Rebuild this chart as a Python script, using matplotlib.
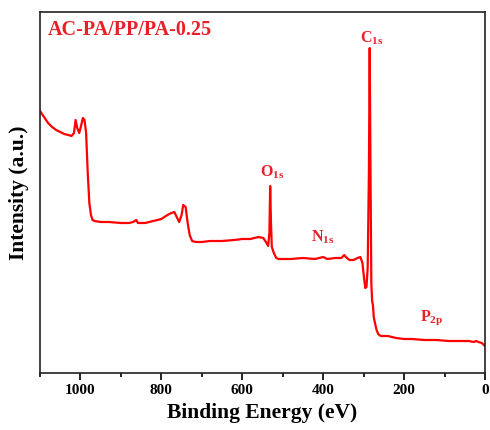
import numpy as np
import matplotlib
matplotlib.use('Agg')
import matplotlib.pyplot as plt
from matplotlib.ticker import MultipleLocator

# Survey spectrum (eV, a.u.)
energy = [1100, 1090, 1080, 1070, 1060, 1050, 1040, 1030, 1022, 1016, 1012, 1008,
          1003, 998, 994, 990, 986, 982, 978, 974, 970, 965, 950, 930, 900, 880,
          870, 862, 858, 840, 820, 800, 785, 775, 768, 762, 756, 750, 746, 740,
          735, 730, 724, 715, 700, 680, 650, 620, 600, 580, 560, 548, 540, 536,
          533, 531, 529, 527, 522, 516, 510, 480, 450, 420, 400, 390, 370, 355,
          348, 344, 335, 325, 315, 308, 303, 299, 296, 293, 290, 287, 285, 283,
          281, 279, 277, 275, 272, 268, 264, 258, 240, 220, 200, 180, 150, 120,
          90, 60, 40, 28, 22, 16, 8, 0]
intensity = [262, 256, 250, 246, 243, 241, 239, 238, 237, 240, 253, 245,
             240, 248, 255, 253, 240, 200, 170, 158, 153, 152, 151, 151, 150, 150,
             151, 153, 150, 150, 152, 154, 158, 160, 161, 156, 151, 158, 168, 166,
             150, 138, 132, 131, 131, 132, 132, 133, 134, 134, 136, 135, 130, 127,
             140, 187, 150, 126, 120, 115, 114, 114, 115, 114, 116, 114, 115, 115,
             118, 116, 113, 113, 115, 116, 110, 95, 85, 86, 105, 200, 325, 200,
             90, 72, 68, 56, 50, 43, 39, 37, 37, 35, 34, 34, 33, 33,
             32, 32, 32, 31, 32, 31, 30, 27]

# Peak labels: (main letter, subscript, eV, intensity)
peak_names = ['O', 'C', 'N', 'P']
peak_subs = ['1s', '1s', '1s', '2p']
peak_x = [526, 279, 402, 131]
peak_y = [201, 335, 136, 55]

sample_name = 'AC-PA/PP/PA-0.25'

plt.rcParams['font.family'] = ['Liberation Serif', 'DejaVu Serif']
plt.rcParams['font.weight'] = 'bold'
plt.rcParams['mathtext.default'] = 'regular'

fig = plt.figure(figsize=(4.9, 4.3), dpi=100)
ax = fig.add_axes([40/490, 1-373/430, 445/490, 361/430])

ax.plot(energy, intensity, color='#ff0000', lw=1.6)

ax.set_xlim(1100, 0)
ax.set_ylim(0, 361)
ax.xaxis.set_major_locator(MultipleLocator(200))
ax.xaxis.set_minor_locator(MultipleLocator(100))
ax.set_yticks([])
ax.tick_params(axis='x', which='major', direction='out', length=5, width=1.2,
               labelsize=11, pad=3)
ax.tick_params(axis='x', which='minor', direction='out', length=3, width=1.2)
for lab in ax.get_xticklabels():
    lab.set_fontweight('bold')

for s in ax.spines.values():
    s.set_linewidth(1.2)
    s.set_color('#222222')

ax.set_xlabel('Binding Energy (eV)', fontsize=15.5, fontweight='bold', labelpad=4)
ax.set_ylabel('Intensity (a.u.)', fontsize=15.5, fontweight='bold', labelpad=8)

ax.text(0.018, 0.95, sample_name, transform=ax.transAxes, color='#e8202a',
        fontsize=14.5, fontweight='bold', ha='left', va='center')

for nm, sb, px, py in zip(peak_names, peak_subs, peak_x, peak_y):
    ax.text(px, py, nm + '$_{' + sb + '}$', color='#e8202a', fontsize=11.5,
            fontweight='bold', ha='center', va='center')

fig.savefig('out.png', dpi=100)
